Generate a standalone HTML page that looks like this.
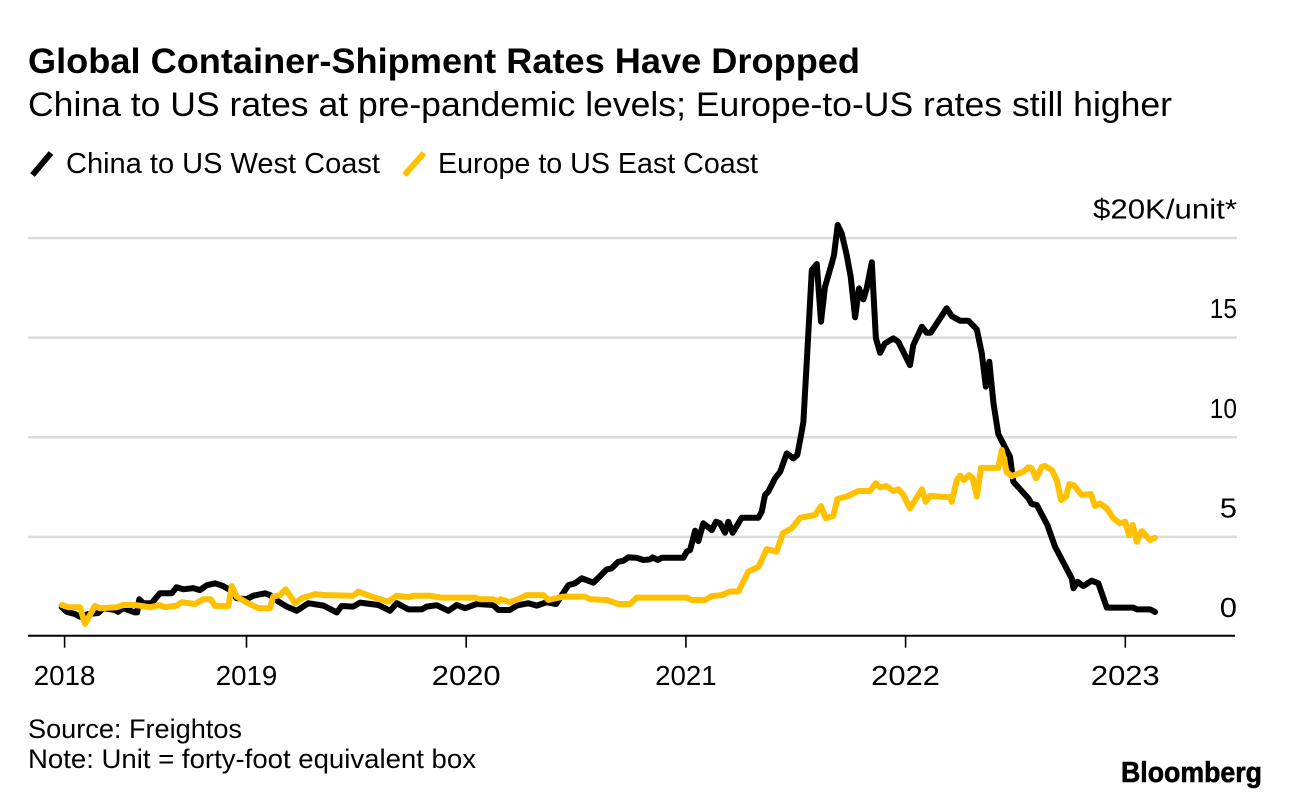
<!DOCTYPE html>
<html lang="en">
<head>
<meta charset="utf-8">
<title>Global Container-Shipment Rates Have Dropped</title>
<style>
  html, body { margin: 0; padding: 0; background: #fff; }
  svg { display: block; }
  text { font-family: "Liberation Sans", sans-serif; fill: #000; }
</style>
</head>
<body>
<svg id="chart" xmlns="http://www.w3.org/2000/svg" width="1289" height="798" viewBox="0 0 1289 798">
  <rect x="0" y="0" width="1289" height="798" fill="#fff"/>
  <text x="28" y="73" font-size="35" font-weight="700" textLength="832" lengthAdjust="spacingAndGlyphs">Global Container-Shipment Rates Have Dropped</text>
  <text x="28" y="116" font-size="34" textLength="1144" lengthAdjust="spacingAndGlyphs">China to US rates at pre-pandemic levels; Europe-to-US rates still higher</text>

  <line x1="32.5" y1="175" x2="51" y2="153" stroke="#000" stroke-width="6"/>
  <text x="66" y="173" font-size="29" textLength="314" lengthAdjust="spacingAndGlyphs">China to US West Coast</text>
  <line x1="404.5" y1="175" x2="424" y2="153" stroke="#ffc000" stroke-width="6"/>
  <text x="438" y="173" font-size="29" textLength="320" lengthAdjust="spacingAndGlyphs">Europe to US East Coast</text>

  <g id="grid"></g>
  <g id="y-labels"></g>
  <g id="x-axis"></g>
  <g id="series"></g>

  <text x="28" y="738" font-size="27" textLength="214" lengthAdjust="spacingAndGlyphs">Source: Freightos</text>
  <text x="28" y="768" font-size="27" textLength="448" lengthAdjust="spacingAndGlyphs">Note: Unit = forty-foot equivalent box</text>
  <text x="1121" y="782" font-size="29" font-weight="700" textLength="141" lengthAdjust="spacingAndGlyphs" stroke="#000" stroke-width="0.6">Bloomberg</text>
</svg>

<script>
const chinaDates = [2018.159,2018.182,2018.219,2018.242,2018.280,2018.325,2018.348,2018.401,2018.415,2018.438,2018.492,2018.502,2018.512,2018.530,2018.568,2018.606,2018.660,2018.682,2018.712,2018.758,2018.788,2018.819,2018.857,2018.894,2018.925,2018.955,2019.001,2019.031,2019.084,2019.107,2019.145,2019.183,2019.229,2019.281,2019.350,2019.411,2019.433,2019.486,2019.517,2019.600,2019.653,2019.684,2019.737,2019.798,2019.820,2019.866,2019.919,2019.957,2019.995,2020.048,2020.123,2020.146,2020.199,2020.230,2020.283,2020.321,2020.367,2020.409,2020.435,2020.465,2020.495,2020.526,2020.579,2020.640,2020.662,2020.692,2020.715,2020.738,2020.776,2020.806,2020.837,2020.849,2020.872,2020.890,2020.988,2021.004,2021.019,2021.042,2021.057,2021.079,2021.118,2021.137,2021.155,2021.178,2021.193,2021.213,2021.254,2021.330,2021.345,2021.360,2021.375,2021.406,2021.429,2021.459,2021.489,2021.507,2021.527,2021.535,2021.555,2021.573,2021.596,2021.615,2021.633,2021.664,2021.674,2021.691,2021.709,2021.732,2021.750,2021.770,2021.788,2021.808,2021.823,2021.846,2021.865,2021.884,2021.906,2021.944,2021.967,2022.020,2022.035,2022.074,2022.096,2022.114,2022.187,2022.210,2022.248,2022.286,2022.324,2022.347,2022.365,2022.381,2022.400,2022.422,2022.475,2022.490,2022.559,2022.574,2022.597,2022.645,2022.680,2022.756,2022.764,2022.782,2022.809,2022.847,2022.877,2022.916,2023.037,2023.052,2023.113,2023.135];
const chinaRates = [1.47,1.24,1.13,0.99,1.13,1.18,1.42,1.33,1.24,1.42,1.21,1.21,1.87,1.67,1.67,2.17,2.17,2.47,2.37,2.43,2.33,2.57,2.67,2.53,2.33,1.92,1.87,2.05,2.17,2.08,1.75,1.50,1.29,1.67,1.55,1.21,1.53,1.50,1.70,1.58,1.29,1.67,1.36,1.36,1.50,1.57,1.29,1.58,1.42,1.63,1.58,1.33,1.33,1.55,1.67,1.55,1.72,1.63,2.08,2.58,2.67,2.92,2.70,3.37,3.42,3.75,3.80,3.97,3.95,3.84,3.87,3.97,3.84,3.95,3.95,4.26,4.34,5.31,4.79,5.68,5.34,5.76,5.68,5.21,5.76,5.21,5.96,5.96,6.26,7.10,7.27,7.94,8.27,9.19,8.94,9.11,10.28,10.78,14.73,18.39,18.69,15.80,17.55,18.73,19.14,20.65,20.23,19.14,18.05,16.02,17.47,16.92,17.47,18.78,14.96,14.24,14.71,14.96,14.79,13.62,14.63,15.55,15.24,15.24,16.47,16.08,15.85,15.85,15.42,14.21,12.54,13.79,11.70,10.16,9.02,7.77,6.93,6.65,6.60,5.60,4.51,2.92,2.42,2.75,2.53,2.80,2.67,1.45,1.45,1.36,1.36,1.23];
const europeDates = [2018.159,2018.189,2018.242,2018.265,2018.310,2018.333,2018.409,2018.439,2018.492,2018.561,2018.606,2018.629,2018.682,2018.705,2018.766,2018.803,2018.837,2018.857,2018.917,2018.933,2018.955,2019.001,2019.054,2019.107,2019.122,2019.152,2019.178,2019.221,2019.251,2019.312,2019.357,2019.486,2019.509,2019.577,2019.645,2019.684,2019.737,2019.759,2019.835,2019.881,2020.040,2020.063,2020.123,2020.146,2020.157,2020.199,2020.237,2020.275,2020.351,2020.374,2020.442,2020.541,2020.564,2020.640,2020.692,2020.746,2020.776,2021.004,2021.027,2021.087,2021.118,2021.163,2021.201,2021.239,2021.284,2021.330,2021.368,2021.413,2021.441,2021.482,2021.520,2021.588,2021.615,2021.637,2021.671,2021.689,2021.732,2021.785,2021.838,2021.864,2021.884,2021.914,2021.944,2021.967,2021.990,2022.020,2022.074,2022.092,2022.111,2022.202,2022.210,2022.233,2022.248,2022.266,2022.289,2022.306,2022.324,2022.343,2022.422,2022.438,2022.460,2022.483,2022.536,2022.559,2022.574,2022.594,2022.620,2022.635,2022.665,2022.688,2022.708,2022.730,2022.745,2022.764,2022.802,2022.843,2022.862,2022.885,2022.916,2022.946,2022.976,2022.999,2023.017,2023.034,2023.052,2023.075,2023.113,2023.135];
const europeRates = [1.58,1.47,1.47,0.63,1.53,1.42,1.47,1.58,1.58,1.47,1.58,1.47,1.55,1.72,1.63,1.87,1.87,1.53,1.53,2.53,2.00,1.70,1.42,1.42,2.00,2.08,2.37,1.67,1.92,2.13,2.08,2.05,2.25,1.97,1.75,2.05,1.97,2.05,2.05,1.95,1.95,1.87,1.87,1.75,1.87,1.72,1.87,2.08,2.08,1.83,2.00,2.00,1.87,1.83,1.63,1.63,1.95,1.95,1.83,1.83,2.03,2.08,2.26,2.26,3.25,3.50,4.38,4.26,5.18,5.43,5.96,6.10,6.55,5.93,6.05,6.90,7.02,7.30,7.30,7.69,7.49,7.55,7.30,7.39,7.10,6.43,7.39,6.76,7.05,6.99,6.76,7.85,8.07,7.85,8.10,7.94,7.02,8.46,8.46,9.36,8.25,8.05,8.27,8.49,8.44,7.94,8.52,8.56,8.36,7.85,6.85,7.02,7.65,7.60,7.10,7.15,6.55,6.68,6.43,5.93,5.68,5.76,5.09,5.60,4.76,5.29,4.84,4.96];

const yTickValues = [0, 5, 10, 15, 20];
const yTickLabels = ['0', '5', '10', '15', '$20K/unit*'];
const xTickDates = [2018.172, 2019, 2020, 2021, 2022, 2023];
const xTickLabels = ['2018', '2019', '2020', '2021', '2022', '2023'];

const NS = 'http://www.w3.org/2000/svg';
const xScale = function (year) { return 246.5 + (year - 2019) * 219.7; };
const yScale = function (rate) { return 636.5 - rate * 19.925; };

function make(tag, parent, attrs, content) {
  const el = document.createElementNS(NS, tag);
  for (const k in attrs) el.setAttribute(k, attrs[k]);
  if (content !== undefined) el.textContent = content;
  parent.appendChild(el);
  return el;
}

// The reference face has wide numerals with a narrow "1".
function numeralWidth(s) {
  let w = 0;
  for (const c of s) w += (c === '1') ? 10 : 17.2;
  return w;
}
function fitLabel(el, s) {
  el.setAttribute('textLength', /^\d+$/.test(s) ? numeralWidth(s) : 144);
  el.setAttribute('lengthAdjust', 'spacingAndGlyphs');
}

const gridGroup = document.getElementById('grid');
const yLabelGroup = document.getElementById('y-labels');
yTickValues.forEach(function (v, i) {
  if (v !== 0) {
    const g = make('line', gridGroup, { x1: 28, x2: 1237, y1: yScale(v), y2: yScale(v), stroke: '#dcdcdc', 'stroke-width': 2.5 });
    
    
  }
  const t = make('text', yLabelGroup, { x: 1237, y: yScale(v) - 19.5, 'font-size': 28, 'text-anchor': 'end' }, yTickLabels[i]);
  
  
  fitLabel(t, yTickLabels[i]);
});

const xGroup = document.getElementById('x-axis');
const axisY = yScale(0) - 0.8;
const axisLine = make('line', xGroup, { x1: 28, x2: 1235, y1: axisY, y2: axisY, stroke: '#000', 'stroke-width': 2 });


xTickDates.forEach(function (d, i) {
  const tick = make('line', xGroup, { x1: xScale(d), x2: xScale(d), y1: axisY, y2: axisY + 12, stroke: '#000', 'stroke-width': 1.6 });
  
  
  const label = make('text', xGroup, { x: xScale(d), y: 685, 'font-size': 28, 'text-anchor': 'middle' }, xTickLabels[i]);
  
  
  fitLabel(label, xTickLabels[i]);
});

function pathFor(dates, rates) {
  return dates.map(function (d, i) {
    return (i ? 'L' : 'M') + xScale(d).toFixed(1) + ' ' + yScale(rates[i]).toFixed(1);
  }).join('');
}

const seriesGroup = document.getElementById('series');
const chinaLine = make('path', seriesGroup, { d: pathFor(chinaDates, chinaRates), fill: 'none', stroke: '#000', 'stroke-width': 6, 'stroke-linejoin': 'round', 'stroke-linecap': 'round' });


const europeLine = make('path', seriesGroup, { d: pathFor(europeDates, europeRates), fill: 'none', stroke: '#ffc000', 'stroke-width': 6, 'stroke-linejoin': 'round', 'stroke-linecap': 'round' });


</script>
</body>
</html>
